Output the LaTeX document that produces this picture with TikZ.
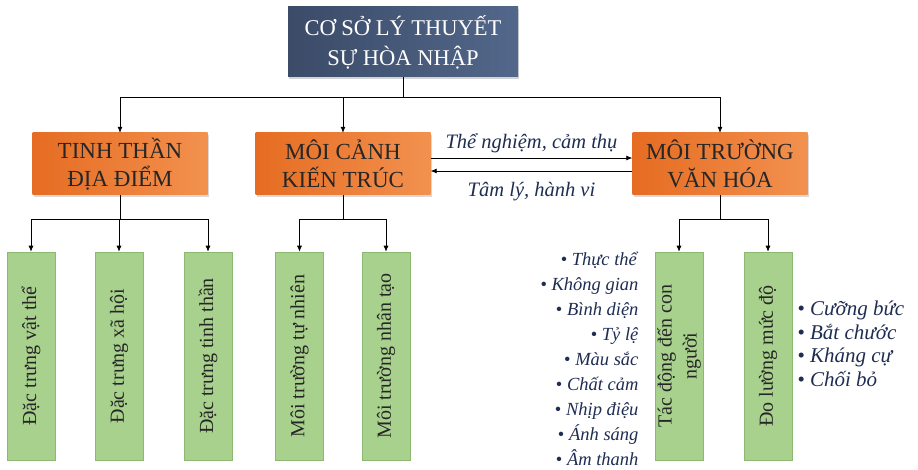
\documentclass[tikz,border=0pt]{standalone}
\usepackage{fontspec}
\setmainfont{Liberation Serif}
\usetikzlibrary{arrows.meta,shadows}
\definecolor{titleA}{HTML}{3B4B68}
\definecolor{titleB}{HTML}{52678A}
\definecolor{orgA}{HTML}{E66C22}
\definecolor{orgB}{HTML}{F2914F}
\definecolor{grn}{HTML}{A9D18E}
\definecolor{grnB}{HTML}{8DB872}
\definecolor{navy}{HTML}{1F2D52}
\begin{document}
\begin{tikzpicture}[x=1pt,y=-1pt,
  titlebox/.style={draw=none,left color=titleA,right color=titleB,text=white,
    minimum width=230pt,minimum height=70pt,align=center,
    font=\fontsize{22.5}{30}\selectfont,drop shadow={shadow xshift=1pt,shadow yshift=-2pt,opacity=0.35}},
  orgbox/.style={draw=none,left color=orgA,right color=orgB,text=black!85,
    minimum width=175pt,minimum height=62pt,align=center,
    font=\fontsize{23}{28}\selectfont,drop shadow={shadow xshift=1pt,shadow yshift=-2pt,opacity=0.3}},
  grnbox/.style={draw=grnB,line width=0.6pt,fill=grn,minimum width=48pt,minimum height=208pt},
  vtext/.style={rotate=90,align=center,font=\fontsize{20}{25}\selectfont,text=black!85},
  arr/.style={-{Latex[length=6pt,width=5pt]},line width=0.7pt,black},
  lbl/.style={font=\fontsize{20.5}{22}\selectfont\itshape,text=navy},
  lst/.style={text=navy}
]
\useasboundingbox (0,0) rectangle (918,470);
% title
\node[titlebox] (top) at (403,42) {CƠ SỞ LÝ THUYẾT\\SỰ HÒA NHẬP};
% orange
\node[orgbox] (o1) at (120,164) {TINH THẦN\\ĐỊA ĐIỂM};
\node[orgbox] (o2) at (343,164) {MÔI CẢNH\\KIẾN TRÚC};
\node[orgbox] (o3) at (720,164) {MÔI TRƯỜNG\\VĂN HÓA};
\coordinate (hub) at (403,97);
\draw[line width=0.7pt] (top.south) -- (hub);
\draw[arr] (hub) -| (o1.north);
\draw[arr] (hub) -| (o2.north);
\draw[arr] (hub) -| (o3.north);
% horizontal arrows
\draw[arr] ([yshift=6pt]o2.east) -- node[lbl,above=1pt] (l1) {Thể nghiệm, cảm thụ} ([yshift=6pt]o3.west);
\draw[arr] ([yshift=-7pt]o3.west) -- node[lbl,below=8pt] (l2) {Tâm lý, hành vi} ([yshift=-7pt]o2.east);
% green boxes
\node[grnbox] (g1) at (31,356) {};
\node[grnbox] (g2) at (119,356) {};
\node[grnbox] (g3) at (208,356) {};
\node[grnbox] (g4) at (299.5,356) {};
\node[grnbox] (g5) at (386,356) {};
\node[grnbox] (g6) at (679,356) {};
\node[grnbox] (g7) at (768,356) {};
\node[vtext] (t1) at (g1) {Đặc trưng vật thể};
\node[vtext] (t2) at (g2) {Đặc trưng xã hội};
\node[vtext] (t3) at (g3) {Đặc trưng tinh thần};
\node[vtext] (t4) at (g4) {Môi trường tự nhiên};
\node[vtext] (t5) at (g5) {Môi trường nhân tạo};
\node[vtext] (t6) at (g6) {Tác động đến con\\người};
\node[vtext] (t7) at (g7) {Đo lường mức độ};
% branches
\coordinate (b1) at (120,219);
\coordinate (b2) at (343,219);
\coordinate (b3) at (720,219);
\draw[line width=0.7pt] (o1.south) -- (b1);
\draw[line width=0.7pt] (o2.south) -- (b2);
\draw[line width=0.7pt] (o3.south) -- (b3);
\draw[arr] (b1) -| (g1.north);
\draw[arr] (b1) -| (g2.north);
\draw[arr] (b1) -| (g3.north);
\draw[arr] (b2) -| (g4.north);
\draw[arr] (b2) -| (g5.north);
\draw[arr] (b3) -| (g6.north);
\draw[arr] (b3) -| (g7.north);
% lists
\node[lst,anchor=east,align=right,font=\fontsize{18.5}{25}\selectfont] (list1) at (642,359)
 {\textbullet\ \textit{Thực thể}\\\textbullet\ \textit{Không gian}\\\textbullet\ \textit{Bình diện}\\\textbullet\ \textit{Tỷ lệ}\\\textbullet\ \textit{Màu sắc}\\\textbullet\ \textit{Chất cảm}\\\textbullet\ \textit{Nhịp điệu}\\\textbullet\ \textit{Ánh sáng}\\\textbullet\ \textit{Âm thanh}};
\node[lst,anchor=west,align=left,font=\fontsize{21}{23.5}\selectfont] (list2) at (794,344)
 {\textbullet\ \textit{Cưỡng bức}\\\textbullet\ \textit{Bắt chước}\\\textbullet\ \textit{Kháng cự}\\\textbullet\ \textit{Chối bỏ}};
\end{tikzpicture}
\end{document}
